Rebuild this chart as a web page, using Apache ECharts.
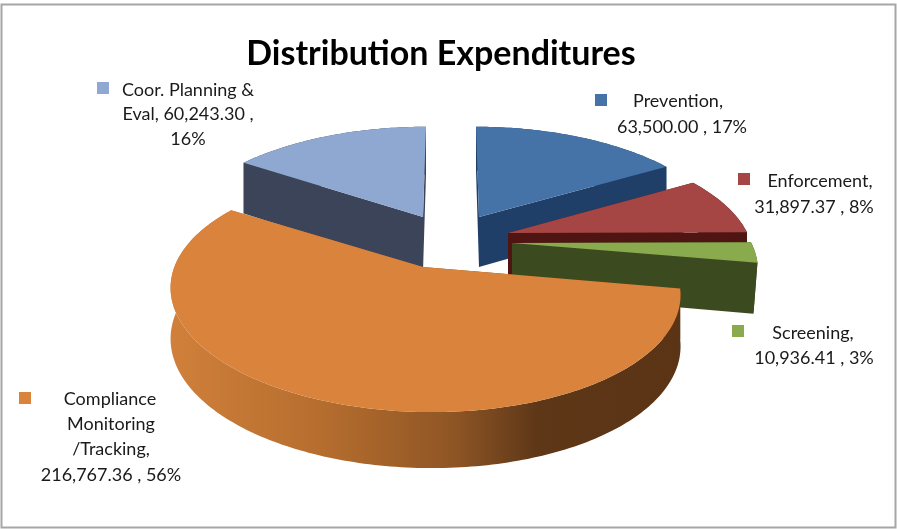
<!DOCTYPE html>
<html>
<head>
<meta charset="utf-8">
<style>html,body{margin:0;padding:0;background:#fff}#c{width:897px;height:529px}</style>
<script src="https://cdn.jsdelivr.net/npm/echarts@6/dist/echarts.min.js"></script>
</head>
<body>
<div id="c"></div>
<script>
const chartTitle = 'Distribution Expenditures';
const categories = ['Prevention', 'Enforcement', 'Screening', 'Compliance Monitoring /Tracking', 'Coor. Planning & Eval'];
const expenditures = [63500.00, 31897.37, 10936.41, 216767.36, 60243.30];
const percentLabels = ['17%', '8%', '3%', '56%', '16%'];
const labelLines = [
  ['Prevention,', '63,500.00 , 17%'],
  ['Enforcement,', '31,897.37 , 8%'],
  ['Screening,', '10,936.41 , 3%'],
  ['Compliance', 'Monitoring', '/Tracking,', '216,767.36 , 56%'],
  ['Coor. Planning &', 'Eval, 60,243.30 ,', '16%']
];
const topColors = ['#4573a8', '#a64644', '#8aaa4e', '#d9833d', '#8fa8d1'];
const wallColors = ['#1f3f68', '#4e1513', '#3c4a1f', '#8e5524', '#3b4458'];
const paintOrder = [1, 2, 3, 4, 0];
const sliceGeometry = [
  {cx: 479, cy: 217, rs: 0.985, lean: 3, H: 111, k: 0.23, depth: 50, dropX: 0},
  {cx: 508, cy: 233, rs: 0.965, lean: 0, H: 111, k: 0.23, depth: 50, dropX: 0},
  {cx: 512, cy: 243, rs: 0.965, lean: 0, H: 111, k: 0.23, depth: 50, dropX: -4},
  {cx: 424, cy: 268, rs: 1.008, lean: 8, H: 116, k: 0.195, depth: 50, dropX: 0, tipX: 423, tipY: 267},
  {cx: 423, cy: 217, rs: 0.985, lean: -3, H: 111, k: 0.23, depth: 54, dropX: 0}
];
const labelBoxes = [
  {keyX: 595, keyY: 94, xs: [678, 682], ys: [101, 127]},
  {keyX: 738, keyY: 173, xs: [820, 814], ys: [181, 207]},
  {keyX: 732, keyY: 325, xs: [813, 814], ys: [333, 358]},
  {keyX: 19, keyY: 392, xs: [110, 111, 111, 111], ys: [399, 424, 449, 475]},
  {keyX: 97, keyY: 82, xs: [188, 188, 188], ys: [90, 114, 139]}
];
const RADIUS = 248;
const total = expenditures.reduce((a, b) => a + b, 0);

function project(g, deg, lift) {
  const t = deg * Math.PI / 180, u = Math.sin(t), v = -Math.cos(t);
  const s = 1 / (1 - g.k * v);
  return [
    g.cx + RADIUS * g.rs * u * s + g.lean * v + (lift ? g.dropX : 0),
    g.cy + g.H * v * s + (lift ? g.depth + 6 * v : 0)
  ];
}
function arc(g, a, b, lift) {
  const pts = [], n = Math.max(2, Math.ceil((b - a)));
  for (let i = 0; i <= n; i++) pts.push(project(g, a + (b - a) * i / n, lift));
  return pts;
}
function renderItem(params, api) {
  const i = params.dataIndex;
  let cum = 0;
  for (let j = 0; j < i; j++) cum += expenditures[j];
  const a0 = cum / total * 360, a1 = (cum + api.value(0)) / total * 360;
  const g = sliceGeometry[i], base = paintOrder[i] * 10;
  const tip = [g.tipX || g.cx, g.tipY || g.cy], tipLow = [tip[0], tip[1] + g.depth];
  const wall = i === 3 ? {
    type: 'linear', x: 171, y: 0, x2: 681, y2: 0, global: true,
    colorStops: [
      {offset: 0, color: '#d0803a'}, {offset: 0.3, color: '#b56d2e'},
      {offset: 0.55, color: '#8f5625'}, {offset: 0.72, color: '#5e3717'}, {offset: 1, color: '#5a3415'}
    ]
  } : wallColors[i];
  const topArc = arc(g, a0, a1, false), lowArc = arc(g, a0, a1, true);
  const s0 = project(g, a0, false), s0l = project(g, a0, true);
  const e0 = project(g, a1, false), e0l = project(g, a1, true);
  const children = [
    {type: 'polygon', z2: base + 1, shape: {points: topArc.concat(lowArc.slice().reverse())}, style: {fill: wall}},
    {type: 'polygon', z2: base + 2, shape: {points: [tip, s0, s0l, tipLow]}, style: {fill: wall}},
    {type: 'polygon', z2: base + 3, shape: {points: [tip, e0, e0l, tipLow]}, style: {fill: wall}},
    {type: 'polygon', z2: base + 5, shape: {points: [tip].concat(topArc)}, style: {fill: topColors[i]}}
  ];
  const box = labelBoxes[i];
  children.push({type: 'rect', z2: 200, shape: {x: box.keyX, y: box.keyY, width: 12, height: 12}, style: {fill: topColors[i]}});
  labelLines[i].forEach((line, n) => {
    children.push({type: 'text', z2: 201, style: {
      text: line, x: box.xs[n], y: box.ys[n], align: 'center', verticalAlign: 'middle',
      font: '400 18px Lato, "Open Sans", sans-serif', fill: '#1a1a1a'
    }});
  });
  return {type: 'group', children};
}

const chart = echarts.init(document.getElementById('c'));
chart.setOption({
  animation: false,
  backgroundColor: '#ffffff',
  title: {
    text: chartTitle, left: 436, top: 32, textAlign: 'center',
    textStyle: {fontFamily: 'Lato, "Open Sans", sans-serif', fontWeight: 'bold', fontSize: 34, color: '#000000'}
  },
  graphic: [{type: 'rect', silent: true, shape: {x: 1.5, y: 4.5, width: 894, height: 523},
    style: {fill: 'none', stroke: '#a6a6a6', lineWidth: 2}, z: -1}],
  series: [{
    type: 'custom', coordinateSystem: 'none', renderItem,
    data: expenditures.map((v, i) => ({name: categories[i], value: [v, percentLabels[i]]})),
    encode: {value: 0}
  }]
});
</script>
</body>
</html>
